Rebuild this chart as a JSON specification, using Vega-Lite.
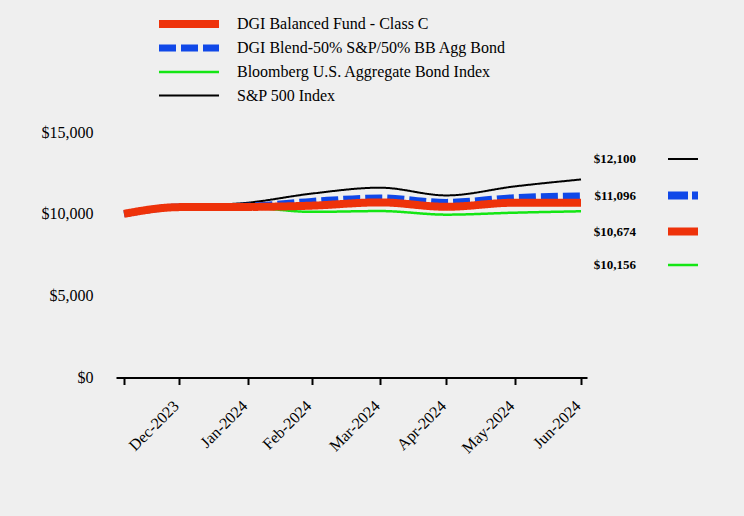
{
  "$schema": "https://vega.github.io/schema/vega-lite/v6.json",
  "width": 471,
  "height": 245.5,
  "autosize": {"type": "none"},
  "padding": {"left": 116, "top": 132, "right": 157, "bottom": 138.5},
  "background": "#EFEFEF",
  "config": {"view": {"stroke": null}, "font": "Liberation Serif"},
  "datasets": {
    "lines": [
      {"date": "2023-12-06", "series": "S&P 500 Index", "value": 10000},
      {"date": "2023-12-31", "series": "S&P 500 Index", "value": 10450},
      {"date": "2024-01-31", "series": "S&P 500 Index", "value": 10680},
      {"date": "2024-02-29", "series": "S&P 500 Index", "value": 11236},
      {"date": "2024-03-31", "series": "S&P 500 Index", "value": 11598},
      {"date": "2024-04-30", "series": "S&P 500 Index", "value": 11125},
      {"date": "2024-05-31", "series": "S&P 500 Index", "value": 11677},
      {"date": "2024-06-30", "series": "S&P 500 Index", "value": 12100},
      {"date": "2023-12-06", "series": "Bloomberg U.S. Aggregate Bond Index", "value": 10000},
      {"date": "2023-12-31", "series": "Bloomberg U.S. Aggregate Bond Index", "value": 10400},
      {"date": "2024-01-31", "series": "Bloomberg U.S. Aggregate Bond Index", "value": 10380},
      {"date": "2024-02-29", "series": "Bloomberg U.S. Aggregate Bond Index", "value": 10120},
      {"date": "2024-03-31", "series": "Bloomberg U.S. Aggregate Bond Index", "value": 10170},
      {"date": "2024-04-30", "series": "Bloomberg U.S. Aggregate Bond Index", "value": 9950},
      {"date": "2024-05-31", "series": "Bloomberg U.S. Aggregate Bond Index", "value": 10070},
      {"date": "2024-06-30", "series": "Bloomberg U.S. Aggregate Bond Index", "value": 10156},
      {"date": "2023-12-06", "series": "DGI Blend-50% S&P/50% BB Agg Bond", "value": 10000},
      {"date": "2023-12-31", "series": "DGI Blend-50% S&P/50% BB Agg Bond", "value": 10420},
      {"date": "2024-01-31", "series": "DGI Blend-50% S&P/50% BB Agg Bond", "value": 10470},
      {"date": "2024-02-29", "series": "DGI Blend-50% S&P/50% BB Agg Bond", "value": 10760},
      {"date": "2024-03-31", "series": "DGI Blend-50% S&P/50% BB Agg Bond", "value": 10970},
      {"date": "2024-04-30", "series": "DGI Blend-50% S&P/50% BB Agg Bond", "value": 10700},
      {"date": "2024-05-31", "series": "DGI Blend-50% S&P/50% BB Agg Bond", "value": 10990},
      {"date": "2024-06-30", "series": "DGI Blend-50% S&P/50% BB Agg Bond", "value": 11096},
      {"date": "2023-12-06", "series": "DGI Balanced Fund - Class C", "value": 10000},
      {"date": "2023-12-31", "series": "DGI Balanced Fund - Class C", "value": 10410},
      {"date": "2024-01-31", "series": "DGI Balanced Fund - Class C", "value": 10420},
      {"date": "2024-02-29", "series": "DGI Balanced Fund - Class C", "value": 10500},
      {"date": "2024-03-31", "series": "DGI Balanced Fund - Class C", "value": 10700},
      {"date": "2024-04-30", "series": "DGI Balanced Fund - Class C", "value": 10430},
      {"date": "2024-05-31", "series": "DGI Balanced Fund - Class C", "value": 10680},
      {"date": "2024-06-30", "series": "DGI Balanced Fund - Class C", "value": 10674}
    ],
    "ends": [
      {"date": "2024-06-30", "end": "$12,100", "value": 12100},
      {"date": "2024-06-30", "end": "$11,096", "value": 11096},
      {"date": "2024-06-30", "end": "$10,674", "value": 10674},
      {"date": "2024-06-30", "end": "$10,156", "value": 10156}
    ]
  },
  "layer": [
    {
      "data": {"name": "lines"},
      "mark": {"type": "line", "interpolate": "monotone", "strokeJoin": "round"},
      "encoding": {
        "x": {
          "field": "date", "type": "temporal",
          "scale": {"type": "utc", "domain": [{"year": 2023, "month": 12, "date": 2, "hours": 9, "utc": true}, {"year": 2024, "month": 7, "date": 2, "hours": 17, "utc": true}]},
          "axis": {
            "title": null, "grid": false,
            "values": [
              {"year": 2023, "month": 12, "date": 6, "utc": true},
              {"year": 2023, "month": 12, "date": 31, "utc": true},
              {"year": 2024, "month": 1, "date": 31, "utc": true},
              {"year": 2024, "month": 2, "date": 29, "utc": true},
              {"year": 2024, "month": 3, "date": 31, "utc": true},
              {"year": 2024, "month": 4, "date": 30, "utc": true},
              {"year": 2024, "month": 5, "date": 31, "utc": true},
              {"year": 2024, "month": 6, "date": 30, "utc": true}
            ],
            "labelExpr": "datum.value < utc(2023, 11, 20) ? '' : utcFormat(datum.value, '%b-%Y')",
            "labelAngle": -45, "labelFont": "Liberation Serif", "labelFontSize": 16, "labelColor": "black",
            "labelOverlap": false, "labelBound": false, "labelFlush": false,
            "domainColor": "black", "domainWidth": 2, "tickColor": "black", "tickWidth": 2, "tickSize": 7,
            "labelPadding": 13, "labelOffset": -9
          }
        },
        "y": {
          "field": "value", "type": "quantitative",
          "scale": {"domain": [0, 15000], "nice": false},
          "axis": {
            "title": null, "grid": false, "domain": false, "ticks": false,
            "values": [0, 5000, 10000, 15000], "format": "$,.0f",
            "labelFont": "Liberation Serif", "labelFontSize": 16, "labelColor": "black", "labelPadding": 23
          }
        },
        "color": {
          "field": "series", "type": "nominal",
          "scale": {"domain": ["DGI Balanced Fund - Class C", "DGI Blend-50% S&P/50% BB Agg Bond", "Bloomberg U.S. Aggregate Bond Index", "S&P 500 Index"], "range": ["#EE320A", "#1048E8", "#14E614", "#000000"]},
          "legend": {"title": null, "orient": "none", "legendX": 64, "legendY": -117, "symbolType": "M-6,0L6,0", "symbolSize": 100, "labelFont": "Liberation Serif", "labelFontSize": 16, "labelColor": "black", "labelOffset": 39, "rowPadding": 7.5, "labelLimit": 400, "encode": {"symbols": {"update": {"strokeJoin": {"value": "round"}}}}}
        },
        "strokeDash": {
          "field": "series", "type": "nominal",
          "scale": {"domain": ["DGI Balanced Fund - Class C", "DGI Blend-50% S&P/50% BB Agg Bond", "Bloomberg U.S. Aggregate Bond Index", "S&P 500 Index"], "range": [[1, 0], [17, 5], [1, 0], [1, 0]]},
          "legend": {"title": null, "orient": "none", "legendX": 64, "legendY": -117, "symbolType": "M-6,0L6,0", "symbolSize": 100, "labelFont": "Liberation Serif", "labelFontSize": 16, "labelColor": "black", "labelOffset": 39, "rowPadding": 7.5, "labelLimit": 400, "encode": {"symbols": {"update": {"strokeJoin": {"value": "round"}}}}}
        },
        "strokeWidth": {
          "field": "series", "type": "nominal",
          "scale": {"type": "ordinal", "domain": ["DGI Balanced Fund - Class C", "DGI Blend-50% S&P/50% BB Agg Bond", "Bloomberg U.S. Aggregate Bond Index", "S&P 500 Index"], "range": [8, 7, 2.5, 2]},
          "legend": {"title": null, "orient": "none", "legendX": 64, "legendY": -117, "symbolType": "M-6,0L6,0", "symbolSize": 100, "labelFont": "Liberation Serif", "labelFontSize": 16, "labelColor": "black", "labelOffset": 39, "rowPadding": 7.5, "labelLimit": 400, "encode": {"symbols": {"update": {"strokeJoin": {"value": "round"}}}}}
        }
      }
    },
    {
      "data": {"name": "ends"},
      "mark": {"type": "line", "strokeJoin": "round"},
      "encoding": {
        "x": {"field": "date", "type": "temporal"},
        "y": {"field": "value", "type": "quantitative", "scale": {"domain": [0, 15000], "nice": false}},
        "color": {
          "field": "end", "type": "nominal",
          "scale": {"domain": ["$12,100", "$11,096", "$10,674", "$10,156"], "range": ["#000000", "#1048E8", "#EE320A", "#14E614"]},
          "legend": {"title": null, "orient": "none", "legendX": 558, "legendY": 20.5, "symbolType": "M-3,0L3,0", "symbolSize": 100, "labelFont": "Liberation Serif", "labelFontSize": 13, "labelFontWeight": "bold", "labelColor": "black", "labelAlign": "right", "labelOffset": -56, "rowPadding": 20, "encode": {"symbols": {"update": {"strokeJoin": {"value": "round"}}}}}
        },
        "strokeDash": {
          "field": "end", "type": "nominal",
          "scale": {"domain": ["$12,100", "$11,096", "$10,674", "$10,156"], "range": [[1, 0], [20, 4], [1, 0], [1, 0]]},
          "legend": {"title": null, "orient": "none", "legendX": 558, "legendY": 20.5, "symbolType": "M-3,0L3,0", "symbolSize": 100, "labelFont": "Liberation Serif", "labelFontSize": 13, "labelFontWeight": "bold", "labelColor": "black", "labelAlign": "right", "labelOffset": -56, "rowPadding": 20, "encode": {"symbols": {"update": {"strokeJoin": {"value": "round"}}}}}
        },
        "strokeWidth": {
          "field": "end", "type": "nominal",
          "scale": {"type": "ordinal", "domain": ["$12,100", "$11,096", "$10,674", "$10,156"], "range": [2, 8, 8, 2.5]},
          "legend": {"title": null, "orient": "none", "legendX": 558, "legendY": 20.5, "symbolType": "M-3,0L3,0", "symbolSize": 100, "labelFont": "Liberation Serif", "labelFontSize": 13, "labelFontWeight": "bold", "labelColor": "black", "labelAlign": "right", "labelOffset": -56, "rowPadding": 20, "encode": {"symbols": {"update": {"strokeJoin": {"value": "round"}}}}}
        }
      }
    }
  ],
  "resolve": {"scale": {"color": "independent", "strokeDash": "independent", "strokeWidth": "independent"}}
}
